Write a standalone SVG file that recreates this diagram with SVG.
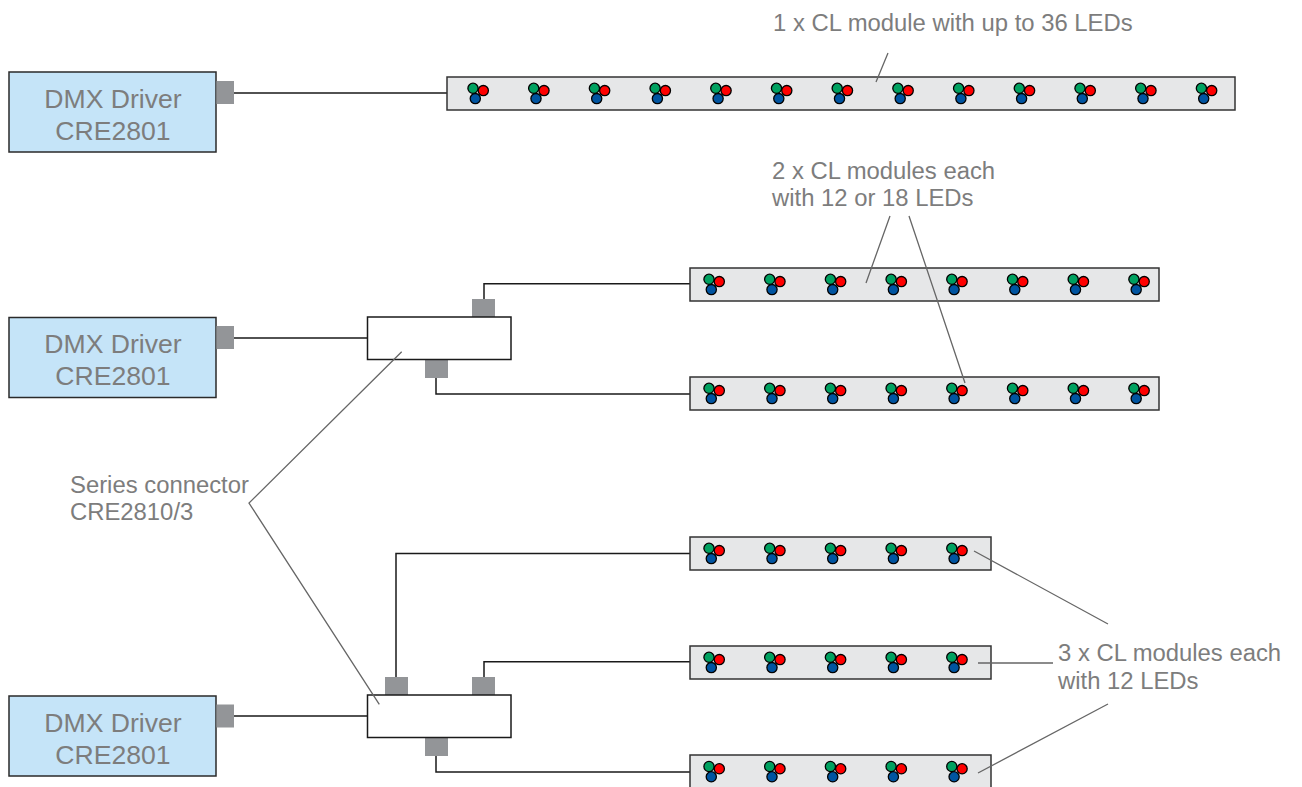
<svg xmlns="http://www.w3.org/2000/svg" width="1302" height="787" viewBox="0 0 1302 787">
<style>
text{font-family:"Liberation Sans",Arial,sans-serif;fill:#7d7d7d}
.lab{font-size:23.85px}
.drv{font-size:26.6px;text-anchor:middle}
.driver{fill:#c5e4f8;stroke:#2a2a2a;stroke-width:1.5}
.port{fill:#939598}
.split{fill:#fff;stroke:#1a1a1a;stroke-width:1.5}
.mod{fill:#e6e7e8;stroke:#333;stroke-width:1.5}
.wire{fill:none;stroke:#1a1a1a;stroke-width:1.5}
.lead{fill:none;stroke:#666;stroke-width:1.3}
.led{stroke:#000;stroke-width:1.3}
</style>
<defs>
<g id="rgb">
<circle class="led" cx="2.3" cy="10.300" r="5.1" fill="#0054a0"/>
<circle class="led" cx="0" cy="0" r="5.1" fill="#00a160"/>
<circle class="led" cx="10.300" cy="2.300" r="5.1" fill="#f00"/>
</g>
</defs>
<g id="connectors">
<path class="wire" d="M234 93H447M234 338H367.500M234 716H367.500M484 299V283.700H690M436 378V394H690M396 677V553.500H690M484 677V661.700H690M436 756V772H690"/>
</g>
<g id="driver1"><rect class="driver" x="9" y="72" width="207" height="80"/><rect class="port" x="216.500" y="81" width="17.500" height="23"/><text class="drv" x="113" y="108">DMX Driver</text><text class="drv" x="113" y="140">CRE2801</text></g>
<g id="driver2"><rect class="driver" x="9" y="317.500" width="207" height="80"/><rect class="port" x="216.500" y="326" width="17.500" height="23"/><text class="drv" x="113" y="353">DMX Driver</text><text class="drv" x="113" y="385">CRE2801</text></g>
<g id="driver3"><rect class="driver" x="9" y="696" width="207" height="80"/><rect class="port" x="216.500" y="704.500" width="17.500" height="23"/><text class="drv" x="113" y="732">DMX Driver</text><text class="drv" x="113" y="764">CRE2801</text></g>
<g id="splitter1"><rect class="port" x="472" y="299" width="23" height="18"/><rect class="port" x="425" y="360" width="23" height="18"/><rect class="split" x="367.500" y="317" width="143.500" height="42.500"/></g>
<g id="splitter2"><rect class="port" x="385" y="677" width="23" height="18"/><rect class="port" x="472" y="677" width="23" height="18"/><rect class="port" x="425" y="738" width="23" height="18"/><rect class="split" x="367.500" y="695" width="143.500" height="42.500"/></g>
<g id="module1"><rect class="mod" x="447" y="77" width="788" height="33"/>
<use href="#rgb" x="473" y="88.300"/><use href="#rgb" x="533.700" y="88.300"/><use href="#rgb" x="594.400" y="88.300"/><use href="#rgb" x="655.100" y="88.300"/><use href="#rgb" x="715.800" y="88.300"/><use href="#rgb" x="776.500" y="88.300"/><use href="#rgb" x="837.200" y="88.300"/><use href="#rgb" x="897.900" y="88.300"/><use href="#rgb" x="958.600" y="88.300"/><use href="#rgb" x="1019.300" y="88.300"/><use href="#rgb" x="1080" y="88.300"/><use href="#rgb" x="1140.700" y="88.300"/><use href="#rgb" x="1201.400" y="88.300"/></g>
<g id="module2"><rect class="mod" x="690" y="268" width="469" height="33"/>
<use href="#rgb" x="709" y="279.300"/><use href="#rgb" x="769.700" y="279.300"/><use href="#rgb" x="830.400" y="279.300"/><use href="#rgb" x="891.100" y="279.300"/><use href="#rgb" x="951.800" y="279.300"/><use href="#rgb" x="1012.500" y="279.300"/><use href="#rgb" x="1073.200" y="279.300"/><use href="#rgb" x="1133.900" y="279.300"/></g>
<g id="module3"><rect class="mod" x="690" y="377" width="469" height="33"/>
<use href="#rgb" x="709" y="388.300"/><use href="#rgb" x="769.700" y="388.300"/><use href="#rgb" x="830.400" y="388.300"/><use href="#rgb" x="891.100" y="388.300"/><use href="#rgb" x="951.800" y="388.300"/><use href="#rgb" x="1012.500" y="388.300"/><use href="#rgb" x="1073.200" y="388.300"/><use href="#rgb" x="1133.900" y="388.300"/></g>
<g id="module4"><rect class="mod" x="690" y="537" width="301" height="33"/>
<use href="#rgb" x="709" y="548.300"/><use href="#rgb" x="769.700" y="548.300"/><use href="#rgb" x="830.400" y="548.300"/><use href="#rgb" x="891.100" y="548.300"/><use href="#rgb" x="951.800" y="548.300"/></g>
<g id="module5"><rect class="mod" x="690" y="646" width="301" height="33"/>
<use href="#rgb" x="709" y="657.300"/><use href="#rgb" x="769.700" y="657.300"/><use href="#rgb" x="830.400" y="657.300"/><use href="#rgb" x="891.100" y="657.300"/><use href="#rgb" x="951.800" y="657.300"/></g>
<g id="module6"><rect class="mod" x="690" y="755" width="301" height="33"/>
<use href="#rgb" x="709" y="766.500"/><use href="#rgb" x="769.700" y="766.500"/><use href="#rgb" x="830.400" y="766.500"/><use href="#rgb" x="891.100" y="766.500"/><use href="#rgb" x="951.800" y="766.500"/></g>
<g id="leaders">
<path class="lead" d="M876 82L888 53M866 283L890 216M909 216L965 383M401.700 351.700L249 503L379.300 704.300M974 551L1108 624M978 663H1053M978 773L1108 704"/>
</g>
<g id="labels">
<text class="lab" x="773" y="30.700">1 x CL module with up to 36 LEDs</text>
<text class="lab" x="772" y="178.700">2 x CL modules each</text>
<text class="lab" x="772" y="205.700">with 12 or 18 LEDs</text>
<text class="lab" x="70" y="492.700">Series connector</text>
<text class="lab" x="70" y="519.700">CRE2810/3</text>
<text class="lab" x="1058" y="660.700">3 x CL modules each</text>
<text class="lab" x="1058" y="688.700">with 12 LEDs</text>
</g>
</svg>
